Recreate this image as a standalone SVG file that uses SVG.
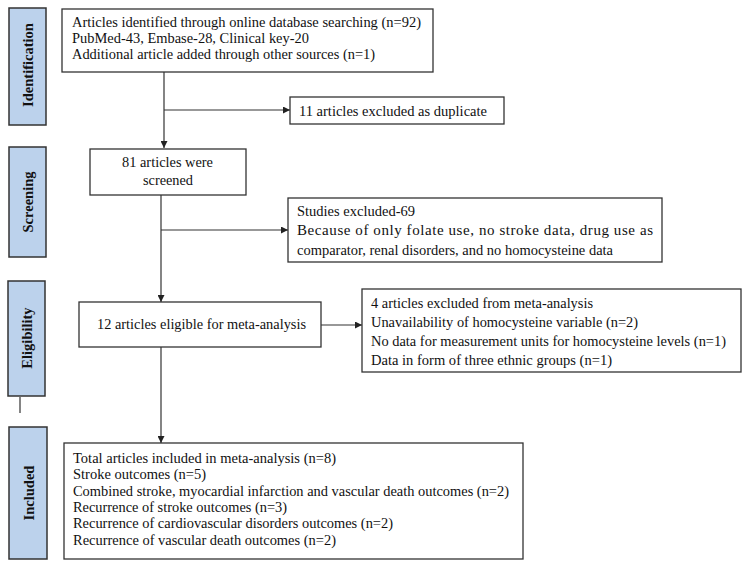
<svg xmlns="http://www.w3.org/2000/svg" width="750" height="572" viewBox="0 0 750 572">
<defs>
<style>
.box{fill:#fff;stroke:#333;stroke-width:1.3}
.side{fill:#bcd2ec;stroke:#333;stroke-width:1.5}
.t{font-family:"Liberation Serif","Times New Roman",serif;font-size:15px;fill:#111}
.tn{font-size:14.3px}
.s{font-family:"Liberation Serif","Times New Roman",serif;font-size:14.5px;font-weight:bold;fill:#111}
.ln{stroke:#333;stroke-width:1.2;fill:none}
</style>
<marker id="ah" viewBox="0 0 10 10" refX="10" refY="5" markerWidth="7" markerHeight="7" markerUnits="userSpaceOnUse" orient="auto">
<path d="M0,0 L10,5 L0,10 z" fill="#222"/>
</marker>
</defs>
<rect width="750" height="572" fill="#fff"/>
<g id="side-identification"><rect class="side" x="9" y="8" width="37" height="117"/><text class="s" transform="translate(33,65) rotate(-90)" text-anchor="middle">Identification</text></g>
<g id="side-screening"><rect class="side" x="9" y="147" width="37" height="110"/><text class="s" transform="translate(33,202) rotate(-90)" text-anchor="middle">Screening</text></g>
<g id="side-eligibility"><rect class="side" x="8" y="281" width="37" height="115"/><text class="s" transform="translate(32,338) rotate(-90)" text-anchor="middle">Eligibility</text></g>
<g id="side-included"><rect class="side" x="9" y="427" width="38" height="132"/><text class="s" transform="translate(34,493) rotate(-90)" text-anchor="middle">Included</text></g>
<g id="connectors">
<line class="ln" x1="20" y1="397" x2="20" y2="413"/>
<line class="ln" x1="164" y1="72" x2="164" y2="148" marker-end="url(#ah)"/>
<line class="ln" x1="164" y1="110" x2="290" y2="110" marker-end="url(#ah)"/>
<line class="ln" x1="161" y1="195" x2="161" y2="302" marker-end="url(#ah)"/>
<line class="ln" x1="161" y1="230" x2="288" y2="230" marker-end="url(#ah)"/>
<line class="ln" x1="321" y1="325" x2="362" y2="325" marker-end="url(#ah)"/>
<line class="ln" x1="161" y1="347" x2="161" y2="443" marker-end="url(#ah)"/>
</g>
<g id="node-identified"><rect class="box" x="62" y="9" width="371" height="63"/>
<text class="t" x="72" y="27" textLength="349" lengthAdjust="spacingAndGlyphs">Articles identified through online database searching (n=92)</text>
<text class="t" x="72" y="43" textLength="237" lengthAdjust="spacingAndGlyphs">PubMed-43, Embase-28, Clinical key-20</text>
<text class="t" x="72" y="59" textLength="303" lengthAdjust="spacingAndGlyphs">Additional article added through other sources (n=1)</text></g>
<g id="node-duplicates"><rect class="box" x="290" y="97" width="214" height="27"/>
<text class="t" x="299" y="116" textLength="188" lengthAdjust="spacingAndGlyphs">11 articles excluded as duplicate</text></g>
<g id="node-screened"><rect class="box" x="90" y="149" width="156" height="46"/>
<text class="t" x="122" y="167" textLength="91" lengthAdjust="spacingAndGlyphs">81 articles were</text>
<text class="t" x="143" y="185" textLength="50" lengthAdjust="spacingAndGlyphs">screened</text></g>
<g id="node-excluded69"><rect class="box" x="288" y="198" width="374" height="64"/>
<text class="t" x="297" y="216" textLength="118" lengthAdjust="spacingAndGlyphs">Studies excluded-69</text>
<text class="t" x="297" y="235" textLength="356" lengthAdjust="spacing">Because of only folate use, no stroke data, drug use as</text>
<text class="t" x="297" y="255" textLength="316" lengthAdjust="spacingAndGlyphs">comparator, renal disorders, and no homocysteine data</text></g>
<g id="node-eligible"><rect class="box" x="79" y="302" width="242" height="45"/>
<text class="t" x="97" y="329" textLength="209" lengthAdjust="spacingAndGlyphs">12 articles eligible for meta-analysis</text></g>
<g id="node-excluded4"><rect class="box" x="362" y="289" width="379" height="83"/>
<text class="t" x="371" y="308" textLength="222" lengthAdjust="spacingAndGlyphs">4 articles excluded from meta-analysis</text>
<text class="t" x="371" y="327" textLength="267" lengthAdjust="spacingAndGlyphs">Unavailability of homocysteine variable (n=2)</text>
<text class="t tn" x="371" y="346" textLength="355" lengthAdjust="spacingAndGlyphs">No data for measurement units for homocysteine levels (n=1)</text>
<text class="t" x="371" y="365" textLength="241" lengthAdjust="spacingAndGlyphs">Data in form of three ethnic groups (n=1)</text></g>
<g id="node-included"><rect class="box" x="64" y="443" width="459" height="116"/>
<text class="t" x="73" y="463" textLength="263" lengthAdjust="spacingAndGlyphs">Total articles included in meta-analysis (n=8)</text>
<text class="t" x="73" y="479" textLength="133" lengthAdjust="spacingAndGlyphs">Stroke outcomes (n=5)</text>
<text class="t" x="73" y="496" textLength="436" lengthAdjust="spacingAndGlyphs">Combined stroke, myocardial infarction and vascular death outcomes (n=2)</text>
<text class="t" x="73" y="512" textLength="214" lengthAdjust="spacingAndGlyphs">Recurrence of stroke outcomes (n=3)</text>
<text class="t" x="73" y="528" textLength="320" lengthAdjust="spacingAndGlyphs">Recurrence of cardiovascular disorders outcomes (n=2)</text>
<text class="t" x="73" y="545" textLength="263" lengthAdjust="spacingAndGlyphs">Recurrence of vascular death outcomes (n=2)</text></g>
</svg>
